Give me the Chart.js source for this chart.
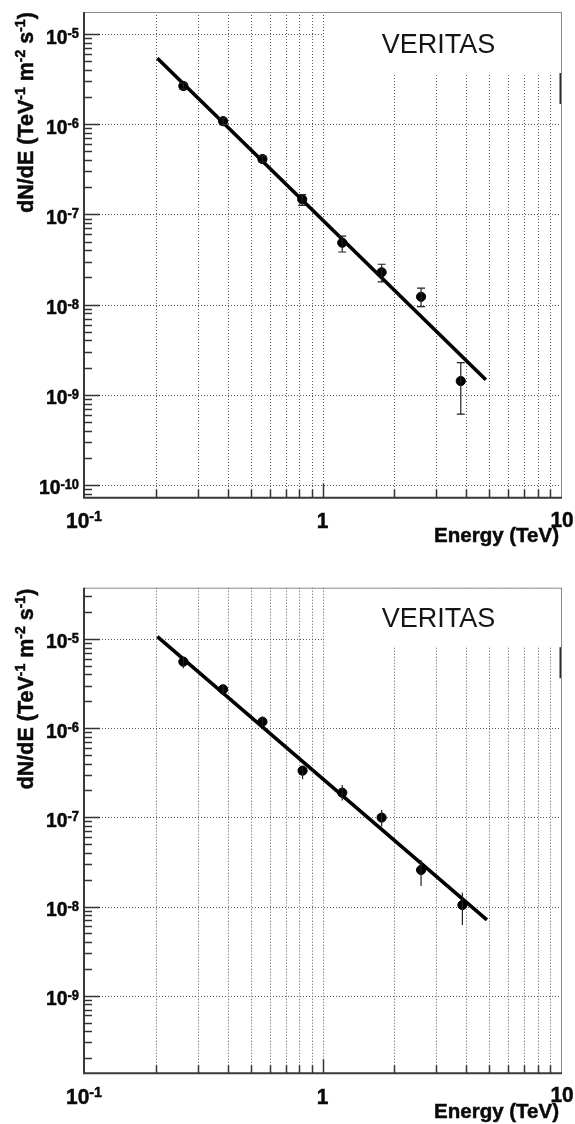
<!DOCTYPE html>
<html><head><meta charset="utf-8">
<script src="https://cdn.jsdelivr.net/npm/chart.js@4/dist/chart.umd.min.js"></script>
<style>
html,body{margin:0;padding:0;background:#fff;}
#wrap{position:relative;width:575px;height:1124px;overflow:hidden;background:#fff;}
.cv{position:absolute;left:0;}
</style></head><body>
<div id="wrap">
<div class="cv" style="top:0;width:575px;height:562px"><canvas id="c1" width="575" height="562"></canvas></div>
<div class="cv" style="top:562px;width:575px;height:562px"><canvas id="c2" width="575" height="562"></canvas></div>
</div>
<script>
// ---------- data ----------
const xTickValues = [0.1, 1, 10];
const xTickBase   = ['10', '1', '10'];
const xTickExp    = ['-1', '', ''];

const topYTickValues = [1e-10, 1e-9, 1e-8, 1e-7, 1e-6, 1e-5];
const topYTickExp    = ['-10', '-9', '-8', '-7', '-6', '-5'];
const botYTickValues = [1e-9, 1e-8, 1e-7, 1e-6, 1e-5];
const botYTickExp    = ['-9', '-8', '-7', '-6', '-5'];

const topEnergy  = [0.261, 0.383, 0.560, 0.822, 1.21, 1.77, 2.59, 3.80];
const topFlux    = [2.65e-6, 1.08e-6, 4.11e-7, 1.47e-7, 4.85e-8, 2.28e-8, 1.22e-8, 1.42e-9];
const topFluxHi  = [2.85e-6, 1.17e-6, 4.45e-7, 1.66e-7, 5.75e-8, 2.80e-8, 1.52e-8, 2.27e-9];
const topFluxLo  = [2.45e-6, 0.99e-6, 3.80e-7, 1.26e-7, 3.83e-8, 1.79e-8, 9.5e-9, 6.1e-10];
const topFitE    = [0.203, 4.84];
const topFitFlux = [5.38e-6, 1.47e-9];

const botEnergy  = [0.261, 0.383, 0.560, 0.825, 1.21, 1.77, 2.59, 3.86];
const botFlux    = [5.57e-6, 2.73e-6, 1.18e-6, 3.34e-7, 1.89e-7, 9.93e-8, 2.57e-8, 1.04e-8];
const botFluxHi  = [6.3e-6, 3.0e-6, 1.35e-6, 3.7e-7, 2.31e-7, 1.21e-7, 3.33e-8, 1.43e-8];
const botFluxLo  = [4.7e-6, 2.45e-6, 1.03e-6, 2.67e-7, 1.54e-7, 7.87e-8, 1.70e-8, 6.2e-9];
const botFitE    = [0.203, 4.89];
const botFitFlux = [1.06e-5, 7.08e-9];

const legendText = 'VERITAS';
const xTitle = 'Energy (TeV)';
const yTitleParts = [['dN/dE (TeV', false], ['-1', true], [' m', false], ['-2', true], [' s', false], ['-1', true], [')', false]];

// ---------- drawing helpers ----------
const FONT = '"Liberation Sans", Arial, Helvetica, sans-serif';
function heavyText(ctx, t, x, y) {
  ctx.fillText(t, x, y);
  ctx.lineWidth = 0.5; ctx.strokeStyle = ctx.fillStyle; ctx.strokeText(t, x, y);
}
function supText(ctx, base, exp, x, y, align, bs, es, rise, sx) {
  ctx.save();
  ctx.font = `bold ${bs}px ${FONT}`;
  const wb = ctx.measureText(base).width * sx;
  ctx.font = `bold ${es}px ${FONT}`;
  const we = exp ? ctx.measureText(exp).width * sx : 0;
  const tot = wb + we;
  const x0 = align === 'right' ? x - tot : (align === 'center' ? x - tot / 2 : x);
  ctx.textAlign = 'left'; ctx.textBaseline = 'alphabetic'; ctx.fillStyle = '#0a0a0a';
  ctx.translate(x0, y); ctx.scale(sx, 1);
  ctx.font = `bold ${bs}px ${FONT}`; heavyText(ctx, base, 0, 0);
  if (exp) { ctx.font = `bold ${es}px ${FONT}`; heavyText(ctx, exp, wb / sx, -rise); }
  ctx.restore();
}

function makePanel(id, o) {
  const fitData = o.fitE.map((e, i) => ({x: e, y: o.fitF[i]}));
  const ptData = o.E.map((e, i) => ({x: e, y: o.F[i]}));
  const plugin = {
    id: 'rootStyle' + id,
    beforeDatasetsDraw(chart) {
      const ctx = chart.ctx, a = chart.chartArea, xs = chart.scales.x, ys = chart.scales.y;
      ctx.save();
      ctx.strokeStyle = '#5a5a5a'; ctx.lineWidth = 1; ctx.setLineDash([1, 2]);
      for (let d = -1; d <= 0; d++) for (let m = 1; m <= 9; m++) {
        const v = m * Math.pow(10, d);
        if (v <= 0.1 + 1e-9) continue;
        const px = Math.round(xs.getPixelForValue(v)) + 0.5;
        ctx.beginPath(); ctx.moveTo(px, a.top); ctx.lineTo(px, a.bottom); ctx.stroke();
      }
      o.yTicks.forEach(v => {
        const py = Math.round(ys.getPixelForValue(v)) + 0.5;
        ctx.beginPath(); ctx.moveTo(a.left, py); ctx.lineTo(a.right, py); ctx.stroke();
      });
      ctx.setLineDash([]);
      const bx = xs.getPixelForValue(1) + 1.5;
      ctx.fillStyle = '#fff';
      ctx.fillRect(bx, a.top, a.right - bx, o.boxH);
      ctx.fillStyle = '#2a2a2a';
      ctx.fillRect(a.right - 1.5, a.top + o.boxH, 2, 31);
      ctx.font = `27px ${FONT}`; ctx.fillStyle = '#151515';
      ctx.textAlign = 'center'; ctx.textBaseline = 'alphabetic';
      ctx.fillText(legendText, (bx + a.right) / 2 - 4, a.top + o.boxH / 2 + 10);
      ctx.restore();
    },
    afterDatasetsDraw(chart) {
      const ctx = chart.ctx, a = chart.chartArea, xs = chart.scales.x, ys = chart.scales.y;
      ctx.save();
      ctx.strokeStyle = '#222'; ctx.lineWidth = 1.2;
      o.E.forEach((e, i) => {
        const px = xs.getPixelForValue(e);
        const yh = ys.getPixelForValue(o.Hi[i]), yl = ys.getPixelForValue(o.Lo[i]);
        ctx.beginPath(); ctx.moveTo(px, yh); ctx.lineTo(px, yl); ctx.stroke();
        if (o.caps) {
          ctx.beginPath();
          ctx.moveTo(px - 4, yh); ctx.lineTo(px + 4, yh);
          ctx.moveTo(px - 4, yl); ctx.lineTo(px + 4, yl);
          ctx.stroke();
        }
      });
      ctx.strokeStyle = '#888'; ctx.lineWidth = 1;
      ctx.beginPath();
      ctx.moveTo(a.left, a.top + 0.5); ctx.lineTo(a.right, a.top + 0.5);
      ctx.moveTo(a.right + 0.5, a.top); ctx.lineTo(a.right + 0.5, a.bottom);
      ctx.stroke();
      ctx.strokeStyle = '#3a3a3a'; ctx.lineWidth = 2;
      ctx.beginPath();
      ctx.moveTo(a.left, a.top); ctx.lineTo(a.left, a.bottom);
      ctx.lineTo(a.right + 1, a.bottom);
      ctx.stroke();
      ctx.lineWidth = 1.5; ctx.strokeStyle = '#333';
      const yMinD = Math.floor(Math.log10(ys.min)), yMaxD = Math.ceil(Math.log10(ys.max));
      for (let d = yMinD; d <= yMaxD; d++) for (let m = 1; m <= 9; m++) {
        const v = m * Math.pow(10, d);
        if (v < ys.min || v > ys.max) continue;
        const py = Math.round(ys.getPixelForValue(v)) + 0.5;
        const len = m === 1 ? 16 : 8;
        ctx.beginPath(); ctx.moveTo(a.left, py); ctx.lineTo(a.left + len, py); ctx.stroke();
      }
      for (let d = -1; d <= 0; d++) for (let m = 1; m <= 9; m++) {
        const v = m * Math.pow(10, d);
        if (v <= 0.1 + 1e-9) continue;
        const px = Math.round(xs.getPixelForValue(v)) + 0.5;
        const len = m === 1 ? 14 : 8;
        ctx.beginPath(); ctx.moveTo(px, a.bottom); ctx.lineTo(px, a.bottom - len); ctx.stroke();
      }
      o.yTicks.forEach((v, i) => {
        const py = ys.getPixelForValue(v);
        supText(ctx, '10', o.yExp[i], 79, py + 9.5, 'right', 21, 14, 5.5, 0.92);
      });
      xTickValues.forEach((v, i) => {
        const px = xs.getPixelForValue(v);
        const raise = v === 10 ? 1.5 : 0;
        supText(ctx, xTickBase[i], xTickExp[i], px + (v === 10 ? 1 : 0), a.bottom + 30.5 - raise, 'center', 22, 15, 7, 0.95);
      });
      ctx.font = `bold 20.5px ${FONT}`; ctx.fillStyle = '#0a0a0a';
      ctx.textAlign = 'right'; ctx.textBaseline = 'alphabetic';
      heavyText(ctx, xTitle, a.right - 2, a.bottom + 44.5);
      ctx.save();
      ctx.translate(33, o.yTitleC); ctx.rotate(-Math.PI / 2);
      let tot = 0;
      yTitleParts.forEach(([t, s]) => { ctx.font = `bold ${s ? 14 : 21.5}px ${FONT}`; tot += ctx.measureText(t).width; });
      let cx = -tot / 2;
      ctx.textAlign = 'left'; ctx.fillStyle = '#0a0a0a';
      yTitleParts.forEach(([t, s]) => {
        ctx.font = `bold ${s ? 14 : 21.5}px ${FONT}`;
        heavyText(ctx, t, cx, s ? -8.5 : 0);
        cx += ctx.measureText(t).width;
      });
      ctx.restore();
      ctx.restore();
    }
  };
  return new Chart(document.getElementById(id), {
    type: 'scatter',
    data: {
      datasets: [
        {type: 'line', data: fitData, borderColor: '#000', borderWidth: 3.6, pointRadius: 0, fill: false, tension: 0, order: 2},
        {type: 'scatter', data: ptData, backgroundColor: '#000', borderColor: '#000', pointRadius: 4.6, pointHoverRadius: 4.6, order: 1}
      ]
    },
    options: {
      responsive: false, animation: false, devicePixelRatio: 1,
      layout: {padding: o.pad},
      plugins: {legend: {display: false}, tooltip: {enabled: false}},
      scales: {
        x: {type: 'logarithmic', min: 0.1, max: 10, display: true,
            ticks: {display: false}, grid: {display: false, drawTicks: false}, border: {display: false},
            afterFit: s => { s.height = 0; }},
        y: {type: 'logarithmic', min: o.yMin, max: o.yMax, display: true,
            ticks: {display: false}, grid: {display: false, drawTicks: false}, border: {display: false},
            afterFit: s => { s.width = 0; }}
      }
    },
    plugins: [plugin]
  });
}

makePanel('c1', {
  E: topEnergy, F: topFlux, Hi: topFluxHi, Lo: topFluxLo, fitE: topFitE, fitF: topFitFlux,
  yTicks: topYTickValues, yExp: topYTickExp,
  yMin: Math.pow(10, -10.141), yMax: Math.pow(10, -4.756),
  pad: {left: 84, right: 14, top: 12, bottom: 64.3}, boxH: 61, caps: true, yTitleC: 112.5
});
makePanel('c2', {
  E: botEnergy, F: botFlux, Hi: botFluxHi, Lo: botFluxLo, fitE: botFitE, fitF: botFitFlux,
  yTicks: botYTickValues, yExp: botYTickExp,
  yMin: Math.pow(10, -9.870), yMax: Math.pow(10, -4.425),
  pad: {left: 84, right: 14, top: 25.7, bottom: 50.7}, boxH: 59.5, caps: false, yTitleC: 127
});
</script>
</body></html>
